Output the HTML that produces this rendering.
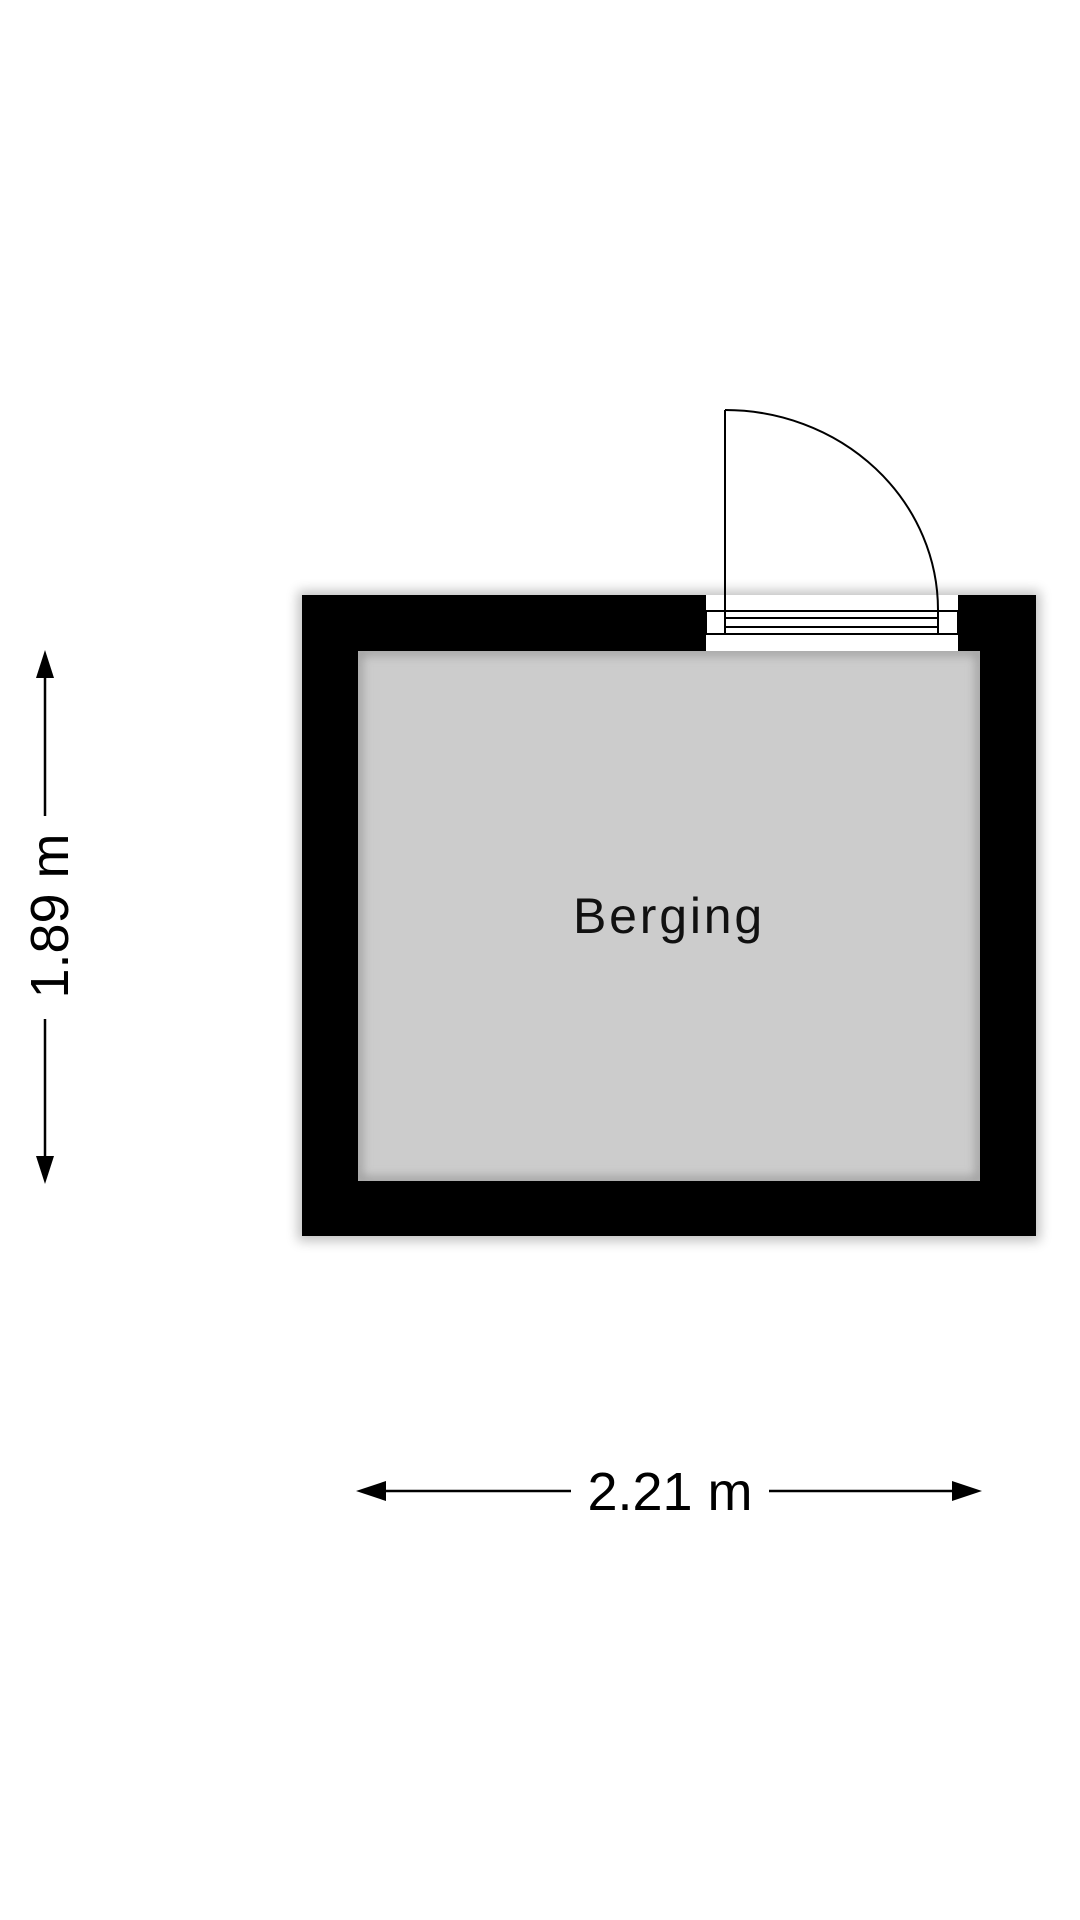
<!DOCTYPE html>
<html><head><meta charset="utf-8"><style>
html,body{margin:0;padding:0;background:#fff;}
body{width:1080px;height:1920px;overflow:hidden;position:relative;}
</style></head><body>
<svg width="1080" height="1920" viewBox="0 0 1080 1920" xmlns="http://www.w3.org/2000/svg" style="position:absolute;left:0;top:0">
<defs>
<filter id="sh" x="-10%" y="-10%" width="120%" height="120%"><feGaussianBlur stdDeviation="6"/></filter>
<filter id="ish" x="-5%" y="-5%" width="110%" height="110%"><feGaussianBlur stdDeviation="5"/></filter>
<clipPath id="inner"><rect x="358" y="651" width="622" height="530"/></clipPath>
</defs>
<rect x="298" y="591" width="742" height="650" fill="#000" opacity="0.25" filter="url(#sh)"/>
<rect x="302" y="595" width="734" height="641" fill="#000"/>
<rect x="358" y="651" width="622" height="530" fill="#cccccc"/>
<g clip-path="url(#inner)">
<rect x="358" y="651" width="622" height="530" fill="none" stroke="#999" stroke-width="8" filter="url(#ish)"/>
</g>
<rect x="706" y="595" width="252" height="56" fill="#fff"/>
<g fill="none" stroke="#000" stroke-width="2">
<line x1="706" y1="611" x2="958" y2="611"/>
<line x1="706" y1="634" x2="958" y2="634"/>
<line x1="725" y1="618" x2="938" y2="618"/>
<line x1="725" y1="627" x2="938" y2="627"/>
<rect x="706" y="611" width="19" height="23"/>
<rect x="938" y="611" width="20" height="23"/>
<line x1="725" y1="410" x2="725" y2="634"/>
<path d="M725 410 A213 200 0 0 1 938 610"/>
</g>
<text x="573" y="933" font-family="Liberation Sans, sans-serif" font-size="50" letter-spacing="2.8" fill="#111">Berging</text>
<g stroke="#000" stroke-width="2.5">
<line x1="45" y1="670" x2="45" y2="816"/>
<line x1="45" y1="1019" x2="45" y2="1165"/>
</g>
<polygon points="45,650 36,678 54,678" fill="#000"/>
<polygon points="45,1184 36,1156 54,1156" fill="#000"/>
<text transform="translate(68,916) rotate(-90)" text-anchor="middle" font-family="Liberation Sans, sans-serif" font-size="54" fill="#000">1.89 m</text>
<g stroke="#000" stroke-width="2.5">
<line x1="370" y1="1491" x2="571" y2="1491"/>
<line x1="769" y1="1491" x2="968" y2="1491"/>
</g>
<polygon points="356,1491 386,1481 386,1501" fill="#000"/>
<polygon points="982,1491 952,1481 952,1501" fill="#000"/>
<text x="670" y="1510" text-anchor="middle" font-family="Liberation Sans, sans-serif" font-size="54" fill="#000">2.21 m</text>
</svg>
</body></html>
